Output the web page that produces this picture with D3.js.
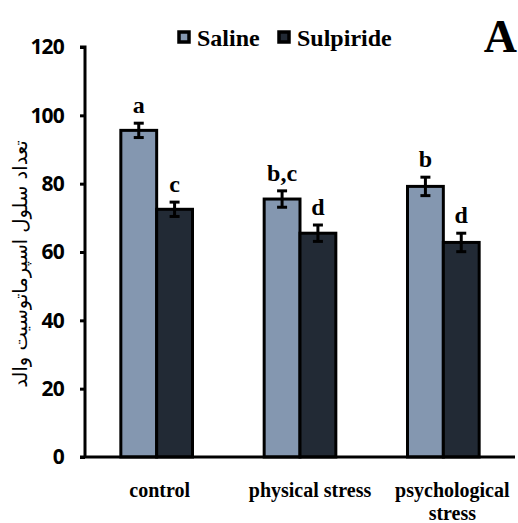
<!DOCTYPE html>
<html>
<head>
<meta charset="utf-8">
<script src="https://cdn.jsdelivr.net/npm/d3@7"></script>
<style>
  html, body { margin: 0; padding: 0; background: #fff; }
  svg { display: block; }
</style>
</head>
<body>
<svg id="chart" width="518" height="523"></svg>
<script>
// Group names (third entry split into two lines)
const categories = ["control", "physical stress", "psychological stress"];
const categoryLines = [["control"], ["physical stress"], ["psychological", "stress"]];
const seriesNames = ["Saline", "Sulpiride"];
const salineValues = [95.6, 75.5, 79.2];
const sulpirideValues = [72.5, 65.5, 62.8];
const salineErrors = [2.1, 2.4, 2.7];
const sulpirideErrors = [2.1, 2.4, 2.7];
const salineLetters = ["a", "b,c", "b"];
const sulpirideLetters = ["c", "d", "d"];
const yTicks = [0, 20, 40, 60, 80, 100, 120];
const yTitle = "تعداد سلول اسپرماتوسیت والد";
const panelLetter = "A";

const colors = ["#8497B0", "#222A35"];
const SERIF = '"Liberation Serif", "Times New Roman", serif';
const SANS = '"Open Sans", "Noto Sans", sans-serif';

function serifText(sel, size) {
  return sel.style("font-family", SERIF).style("font-weight", "bold").style("font-size", size + "px");
}

const svg = d3.select("#chart");
const margin = { left: 85, right: 3, top: 47, bottom: 66 };
const W = 518, H = 523;

const x0 = d3.scaleBand().domain(categories)
  .range([margin.left, W - margin.right]).paddingInner(0.5).paddingOuter(0.25);
const x1 = d3.scaleBand().domain(seriesNames).range([0, x0.bandwidth()]);
const y = d3.scaleLinear().domain([0, 120]).range([H - margin.bottom, margin.top]);

const rows = categories.map((c, i) => ({
  cat: c,
  vals: [
    { s: seriesNames[0], v: salineValues[i], e: salineErrors[i], l: salineLetters[i] },
    { s: seriesNames[1], v: sulpirideValues[i], e: sulpirideErrors[i], l: sulpirideLetters[i] }
  ]
}));

// Bars
const g = svg.append("g");
const groups = g.selectAll("g.grp").data(rows).join("g")
  .attr("class", "grp")
  .attr("transform", d => `translate(${x0(d.cat)},0)`);

groups.selectAll("rect").data(d => d.vals).join("rect")
  .attr("x", d => x1(d.s))
  .attr("y", d => y(d.v))
  .attr("width", x1.bandwidth())
  .attr("height", d => y(0) - y(d.v))
  .attr("fill", (d, i) => colors[i])
  .attr("stroke", "#000")
  .attr("stroke-width", 3);

// Error bars
const capW = 5;
groups.selectAll("g.err").data(d => d.vals).join("g")
  .attr("class", "err")
  .each(function(d) {
    const cx = x1(d.s) + x1.bandwidth() / 2;
    const sel = d3.select(this);
    sel.append("line").attr("x1", cx).attr("x2", cx)
      .attr("y1", y(d.v + d.e)).attr("y2", y(d.v - d.e));
    sel.append("line").attr("x1", cx - capW).attr("x2", cx + capW)
      .attr("y1", y(d.v + d.e)).attr("y2", y(d.v + d.e));
    sel.append("line").attr("x1", cx - capW).attr("x2", cx + capW)
      .attr("y1", y(d.v - d.e)).attr("y2", y(d.v - d.e));
  })
  .selectAll("line").attr("stroke", "#000").attr("stroke-width", 3);

// Significance letters
serifText(groups.selectAll("text.sig").data(d => d.vals).join("text")
  .attr("class", "sig")
  .attr("x", d => x1(d.s) + x1.bandwidth() / 2)
  .attr("y", d => y(d.v + d.e) - 10)
  .attr("text-anchor", "middle"), 24)
  .text(d => d.l);

// Y axis
const yAxis = d3.axisLeft(y).tickValues(yTicks).tickSize(5).tickPadding(16);
const ya = svg.append("g").attr("transform", `translate(${margin.left},0)`).call(yAxis);
ya.select(".domain").attr("stroke", "#000").attr("stroke-width", 3).attr("d", `M-5,${y(120)}H0V${y(0)}`);
ya.selectAll(".tick line").attr("stroke", "#000").attr("stroke-width", 3);
ya.selectAll(".tick text")
  .style("font-family", SANS)
  .style("font-weight", "bold")
  .style("font-size", "21px")
  .style("letter-spacing", "-0.8px")
  .attr("fill", "#000");

// X axis line
svg.append("line")
  .attr("x1", margin.left - 5).attr("x2", W - margin.right)
  .attr("y1", y(0)).attr("y2", y(0))
  .attr("stroke", "#000").attr("stroke-width", 3);

// X category labels
const xl = svg.append("g");
const labelShift = [3, 10, 9];
categories.forEach((c, i) => {
  const cx = x0(c) + x0.bandwidth() / 2 + labelShift[i];
  const t = serifText(xl.append("text")
    .attr("x", cx)
    .attr("y", 497)
    .attr("text-anchor", "middle"), 20);
  categoryLines[i].forEach((ln, j) => {
    t.append("tspan").attr("x", cx).attr("dy", j === 0 ? 0 : 23).text(ln);
  });
});

// Y axis title
svg.append("text")
  .attr("transform", `translate(27,${(y(0) + y(120)) / 2 + 12}) rotate(-90)`)
  .attr("text-anchor", "middle")
  .attr("direction", "rtl")
  .style("font-family", '"DejaVu Sans", sans-serif')
  .style("font-size", "19.5px")
  .text(yTitle);

// Legend
const legend = svg.append("g");
const legX = [179, 279];
seriesNames.forEach((s, i) => {
  legend.append("rect")
    .attr("x", legX[i]).attr("y", 32).attr("width", 10).attr("height", 10)
    .attr("fill", colors[i]).attr("stroke", "#000").attr("stroke-width", 3.5);
  serifText(legend.append("text")
    .attr("x", legX[i] + 18).attr("y", 46), 24)
    .text(s);
});

// Panel letter
serifText(svg.append("text")
  .attr("x", 517).attr("y", 52)
  .attr("text-anchor", "end"), 46)
  .text(panelLetter);
</script>
</body>
</html>
